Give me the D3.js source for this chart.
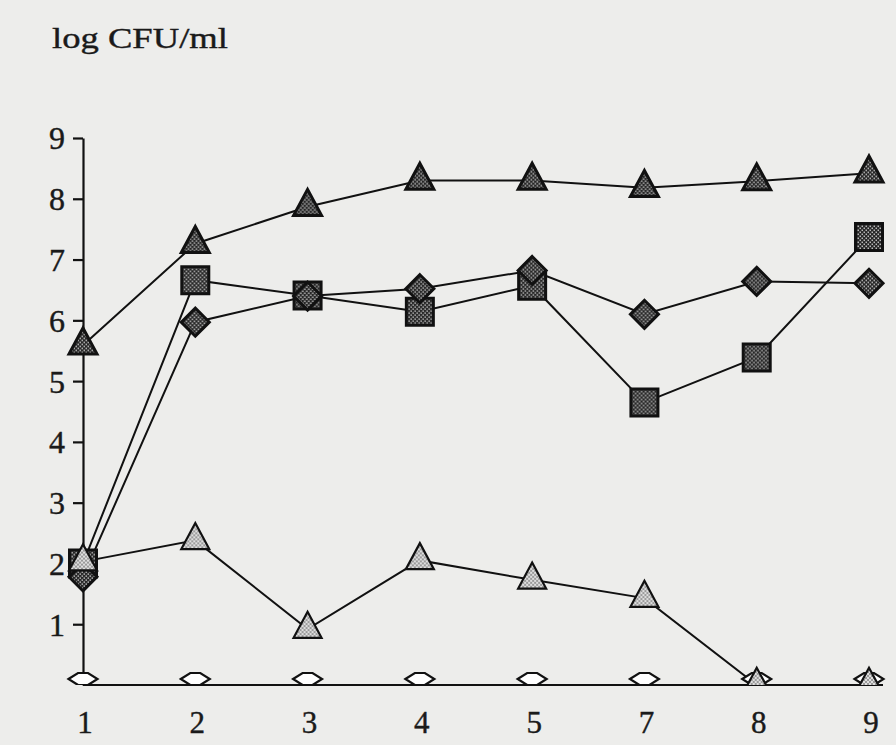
<!DOCTYPE html>
<html>
<head>
<meta charset="utf-8">
<script src="https://cdn.jsdelivr.net/npm/d3@7"></script>
<style>
  html, body { margin: 0; padding: 0; background: #ededeb; }
  svg { display: block; }
</style>
</head>
<body>
<svg id="chart" width="896" height="745"></svg>
<script>
// ---- data ----
const categories = ["1", "2", "3", "4", "5", "7", "8", "9"];
const yTicks = [1, 2, 3, 4, 5, 6, 7, 8, 9];
const darkTriangle  = [5.59, 7.26, 7.87, 8.30, 8.30, 8.18, 8.29, 8.42];
const darkSquare    = [2.00, 6.66, 6.41, 6.14, 6.57, 4.65, 5.39, 7.37];
const darkDiamond   = [1.78, 5.97, 6.40, 6.52, 6.82, 6.10, 6.64, 6.61];
const lightTriangle = [2.03, 2.38, 0.92, 2.05, 1.73, 1.43, 0, 0];
const openDiamond   = [0, 0, 0, 0, 0, 0, 0, 0];
const yTitle = "log CFU/ml";

const svg = d3.select("#chart");
const W = 896, H = 745;

svg.append("rect").attr("width", W).attr("height", H).attr("fill", "#ededeb");

// patterns (halftone fills)
const defs = svg.append("defs");
const pd = defs.append("pattern").attr("id", "darkDots")
  .attr("patternUnits", "userSpaceOnUse").attr("width", 4).attr("height", 4);
pd.append("rect").attr("width", 4).attr("height", 4).attr("fill", "#262626");
pd.append("rect").attr("x", 0.5).attr("y", 0.5).attr("width", 1.5).attr("height", 1.5).attr("fill", "#bdbdbd");
pd.append("rect").attr("x", 2.5).attr("y", 2.5).attr("width", 1.5).attr("height", 1.5).attr("fill", "#bdbdbd");

const pl = defs.append("pattern").attr("id", "lightDots")
  .attr("patternUnits", "userSpaceOnUse").attr("width", 4).attr("height", 4);
pl.append("rect").attr("width", 4).attr("height", 4).attr("fill", "#dedede");
pl.append("rect").attr("x", 0).attr("y", 0).attr("width", 2).attr("height", 2).attr("fill", "#9a9a9a");
pl.append("rect").attr("x", 2).attr("y", 2).attr("width", 2).attr("height", 2).attr("fill", "#9a9a9a");

// scales
const x = d3.scalePoint().domain(categories).range([83, 869]);
const y = d3.scaleLinear().domain([0, 9]).range([685, 138]);

defs.append("clipPath").attr("id", "plotClip")
  .append("rect").attr("x", 0).attr("y", 0).attr("width", W).attr("height", y(0));

const ink = "#111111";
const fontFam = "'Liberation Serif', 'Times New Roman', serif";

// y axis
const yAxis = svg.append("g")
  .attr("transform", `translate(${x(categories[0])},0)`)
  .call(d3.axisLeft(y).tickValues(yTicks).tickSize(10).tickSizeOuter(0).tickPadding(8));
yAxis.select(".domain").attr("stroke", ink).attr("stroke-width", 2.2);
yAxis.selectAll(".tick line").attr("stroke", ink).attr("stroke-width", 2.2);
yAxis.selectAll(".tick text")
  .attr("font-family", fontFam)
  .attr("font-size", 32).attr("fill", "#1a1a1a")
  .attr("stroke", "#1a1a1a").attr("stroke-width", 0.4)
  .attr("dy", "0.34em");

// x axis line (no ticks)
svg.append("line")
  .attr("x1", x(categories[0])).attr("x2", x(categories[categories.length - 1]) + 14)
  .attr("y1", y(0)).attr("y2", y(0))
  .attr("stroke", ink).attr("stroke-width", 2.2);

// x labels
svg.append("g").selectAll("text").data(categories).join("text")
  .attr("x", d => x(d) + 2).attr("y", y(0) + 48)
  .attr("text-anchor", "middle")
  .attr("font-family", fontFam)
  .attr("font-size", 31).attr("fill", "#1a1a1a")
  .attr("stroke", "#1a1a1a").attr("stroke-width", 0.4)
  .text(d => d);

// title
svg.append("text")
  .attr("x", 52).attr("y", 48)
  .attr("font-family", fontFam)
  .attr("font-size", 30).attr("fill", "#1a1a1a")
  .attr("stroke", "#1a1a1a").attr("stroke-width", 0.4)
  .attr("textLength", 176).attr("lengthAdjust", "spacingAndGlyphs")
  .text(yTitle);

// lines
const line = d3.line().x((d, i) => x(categories[i])).y(d => y(d));
const lineSeries = [openDiamond, lightTriangle, darkSquare, darkDiamond, darkTriangle];
svg.append("g").selectAll("path").data(lineSeries).join("path")
  .attr("d", d => line(d))
  .attr("fill", "none").attr("stroke", ink).attr("stroke-width", 2);

// marker shapes
const triPath = "M0,-17.3 L14,8.7 L-14,8.7 Z";
const sqPath = "M-13.5,-13.5 H13.5 V13.5 H-13.5 Z";
const diaPath = "M0,-14 L14,0 L0,14 L-14,0 Z";
const hexPath = "M-14.5,-6 L-5,-12 L5,-12 L14.5,-6 L5,0 L-5,0 Z";

const markers = svg.append("g").attr("clip-path", "url(#plotClip)");

function drawMarkers(values, path, fill, sw) {
  markers.append("g").selectAll("path").data(values).join("path")
    .attr("transform", (d, i) => `translate(${x(categories[i])},${y(d)})`)
    .attr("d", path)
    .attr("fill", fill).attr("stroke", ink).attr("stroke-width", sw)
    .attr("stroke-linejoin", "miter");
}

drawMarkers(openDiamond, hexPath, "#ffffff", 2.2);
drawMarkers(darkSquare, sqPath, "url(#darkDots)", 3);
drawMarkers(darkDiamond, diaPath, "url(#darkDots)", 3);
drawMarkers(darkTriangle, triPath, "url(#darkDots)", 3);
drawMarkers(lightTriangle, triPath, "url(#lightDots)", 2.2);
</script>
</body>
</html>
